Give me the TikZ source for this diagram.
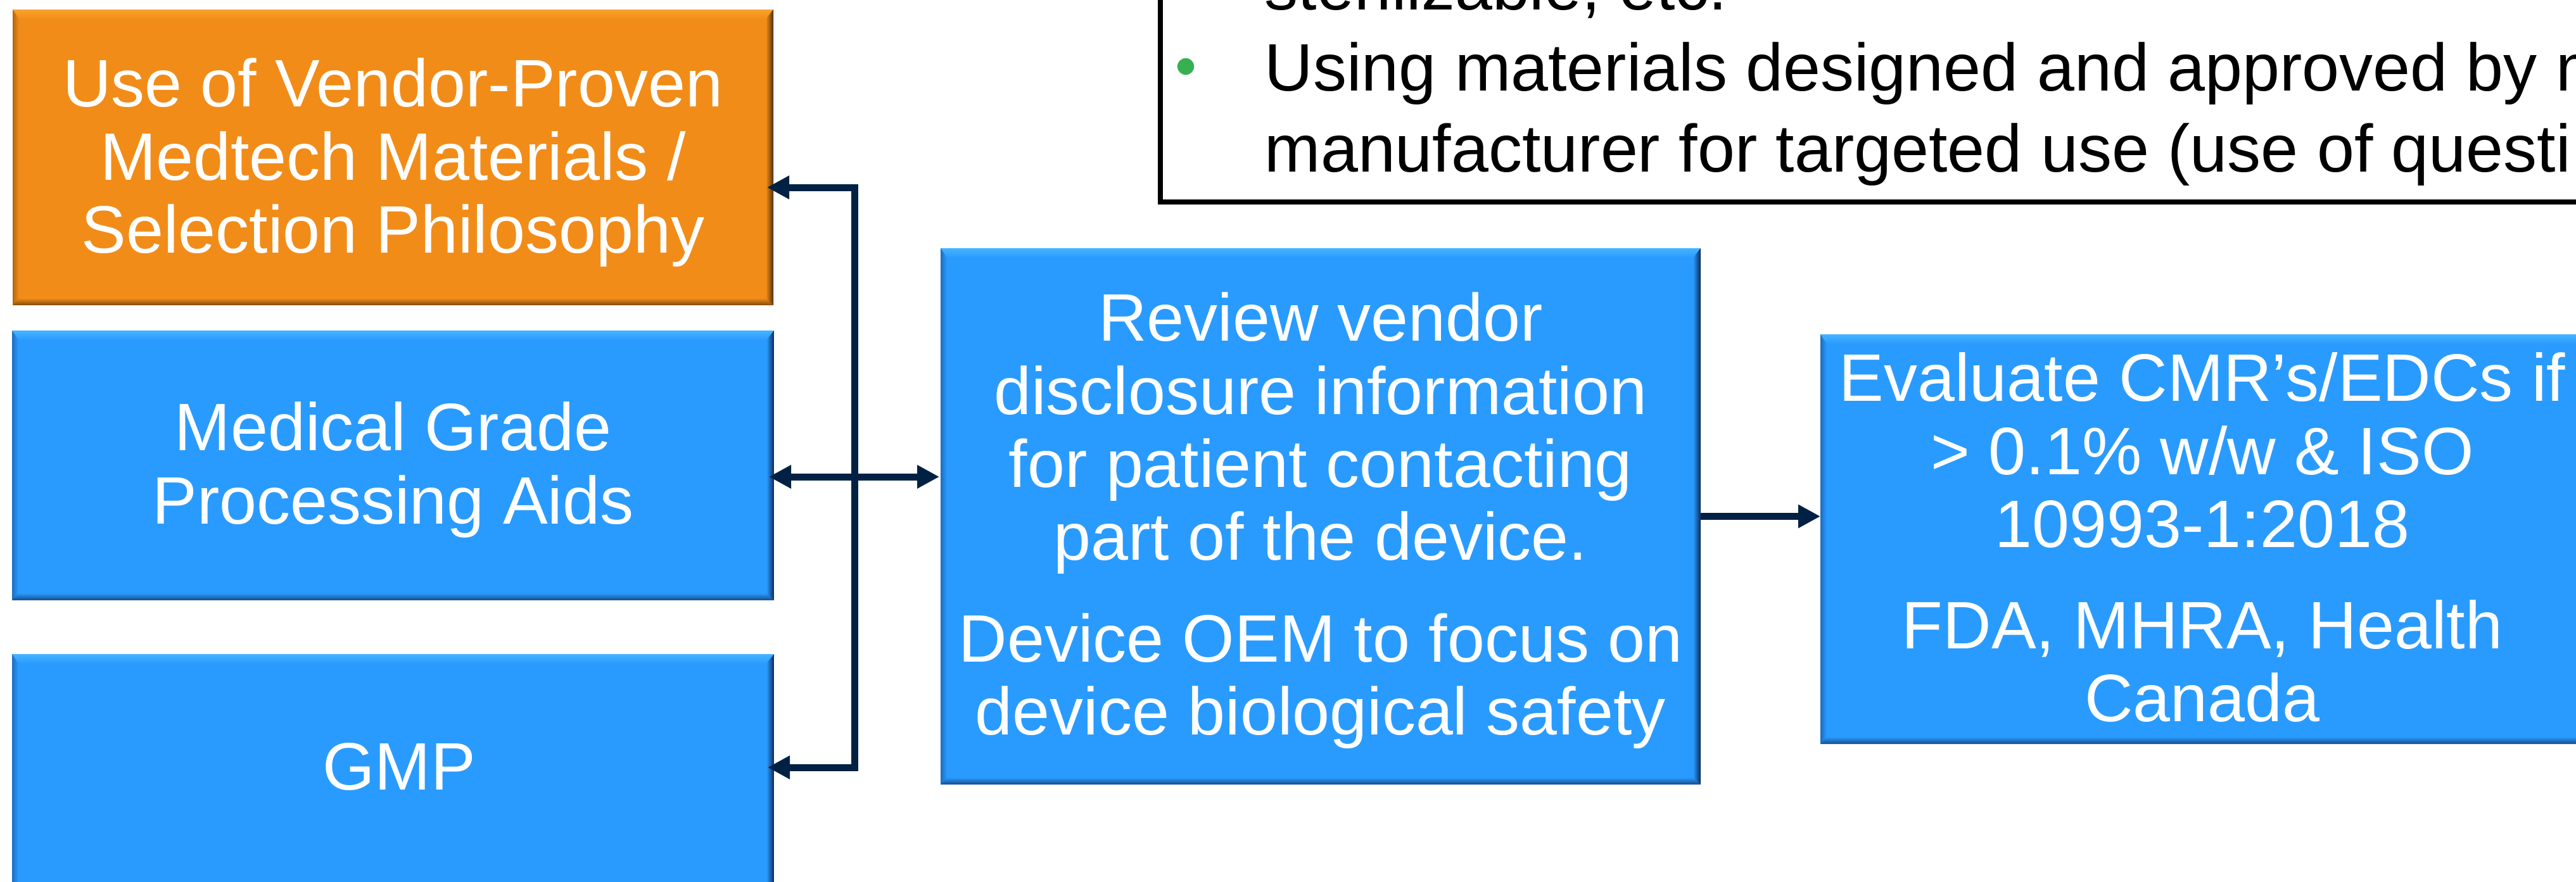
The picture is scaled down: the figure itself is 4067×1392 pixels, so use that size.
\documentclass[tikz,border=0pt]{standalone}
\usepackage{fontspec}
\setmainfont{Liberation Sans}
\usetikzlibrary{arrows.meta}

\definecolor{boxblue}{RGB}{41,155,255}
\definecolor{boxbluelight}{RGB}{105,208,255}
\definecolor{boxbluedark}{RGB}{12,40,88}
\definecolor{boxorange}{RGB}{242,140,24}
\definecolor{boxorangelight}{RGB}{255,190,72}
\definecolor{boxorangedark}{RGB}{80,48,6}
\definecolor{linknavy}{RGB}{0,33,68}
\definecolor{bulletgreen}{RGB}{55,176,82}

\tikzset{
  % flat box with a bevelled rim: base colour, highlight, shadow
  bevelbox/.style n args={3}{
    rectangle, fill=#1, draw=none, inner sep=0pt, outer sep=0pt,
    path picture={
      \coordinate (bvNW) at (path picture bounding box.north west);
      \coordinate (bvNE) at (path picture bounding box.north east);
      \coordinate (bvSW) at (path picture bounding box.south west);
      \coordinate (bvSE) at (path picture bounding box.south east);
      \shade[top color=#2!45!#1, middle color=#2, bottom color=#1]
        (bvNW) -- (bvNE) -- ([shift={(-3pt,-3.8pt)}]bvNE)
        -- ([shift={(2.5pt,-3.8pt)}]bvNW) -- cycle;
      \shade[left color=#3!40!#1, right color=#1]
        (bvNW) -- ([shift={(2.5pt,-3.8pt)}]bvNW)
        -- ([shift={(2.5pt,2.8pt)}]bvSW) -- (bvSW) -- cycle;
      \shade[left color=#1, right color=#3]
        (bvNE) -- (bvSE) -- ([shift={(-3pt,2.8pt)}]bvSE)
        -- ([shift={(-3pt,-3.8pt)}]bvNE) -- cycle;
      \shade[top color=#1, bottom color=#3!70!#1]
        (bvSW) -- (bvSE) -- ([shift={(-3pt,2.8pt)}]bvSE)
        -- ([shift={(2.5pt,2.8pt)}]bvSW) -- cycle;
    }
  },
  orangebox/.style={bevelbox={boxorange}{boxorangelight}{boxorangedark}},
  bluebox/.style={bevelbox={boxblue}{boxbluelight}{boxbluedark}},
  boxtext/.style={text=white, align=center, inner sep=0pt, anchor=north,
    font=\fontsize{26.5}{28.8}\selectfont},
  notetext/.style={text=black, align=left, inner sep=0pt, anchor=north west,
    font=\fontsize{26.5}{32}\selectfont},
  navytip/.tip={Triangle[length=8.75pt,width=8.75pt]},
  link/.style={draw=linknavy, line width=2.75pt, line join=miter},
}

\begin{document}
\begin{tikzpicture}[x=0.25pt, y=-0.25pt]
\useasboundingbox (0,0) rectangle (4067,1392);
\clip (0,0) rectangle (4067,1392);

% left column
\node[orangebox, minimum width=300.25pt, minimum height=116.75pt] (o) at (620.5,248.5) {};
\node[bluebox, minimum width=300.75pt, minimum height=106.5pt] (m) at (620.5,735) {};
\node[bluebox, minimum width=300.75pt, minimum height=93pt] (g) at (620.5,1219) {};

% centre and right
\node[bluebox, minimum width=300pt, minimum height=211.75pt] (c) at (2085,815.5) {};
\node[bluebox, minimum width=301.5pt, minimum height=161.75pt] (r) at (3477,851.5) {};

\node[boxtext] (otext) at (620.5,87.4)
  {\strut Use of Vendor-Proven\\Medtech Materials /\\Selection Philosophy};
\node[boxtext] (mtext) at (620.5,630.4) {\strut Medical Grade\\Processing Aids};
\node[boxtext] (gtext) at (630,1166.4) {\strut GMP};
\node[boxtext] (ctext) at (2085,457.4)
  {\strut Review vendor\\disclosure information\\for patient contacting\\part of the device.\\[11.4pt]Device OEM to focus on\\device biological safety};
\node[boxtext] (rtext) at (3477,552.4)
  {\strut Evaluate CMR’s/EDCs if\\> 0.1\% w/w \& ISO\\10993-1:2018\\[11.3pt]FDA, MHRA, Health\\Canada};

% note box at the top
\node[draw=black, line width=2pt, minimum width=592pt, minimum height=94.75pt, inner sep=0pt]
  (notes) at (3016,129.5) {};
\node[circle, fill=bulletgreen, minimum size=6.6pt, inner sep=0pt] (bullet) at (1872,105) {};
\node[notetext] (notestext) at (1996,-74.6)
  {\strut sterilizable, etc.\\Using materials designed and approved by m\\manufacturer for targeted use (use of questi};

% connectors
\coordinate (yTop) at (0,296);
\coordinate (yMid) at (0,753);
\coordinate (yBot) at (0,1212);
\coordinate (trunkTop) at (1349,296);
\coordinate (trunkBot) at (1349,1212);

\draw[link, navytip-navytip, shorten <=-2.5pt, shorten >=-2.5pt]
  (o.east |- yTop) -- (trunkTop) -- (trunkBot) -- (g.east |- yBot);
\draw[link, navytip-navytip, shorten <=-2pt, shorten >=0.5pt]
  (m.east |- yMid) -- (c.west |- yMid);
\draw[link, -navytip] (c.east) -- (c.east -| r.west);
\end{tikzpicture}
\end{document}
